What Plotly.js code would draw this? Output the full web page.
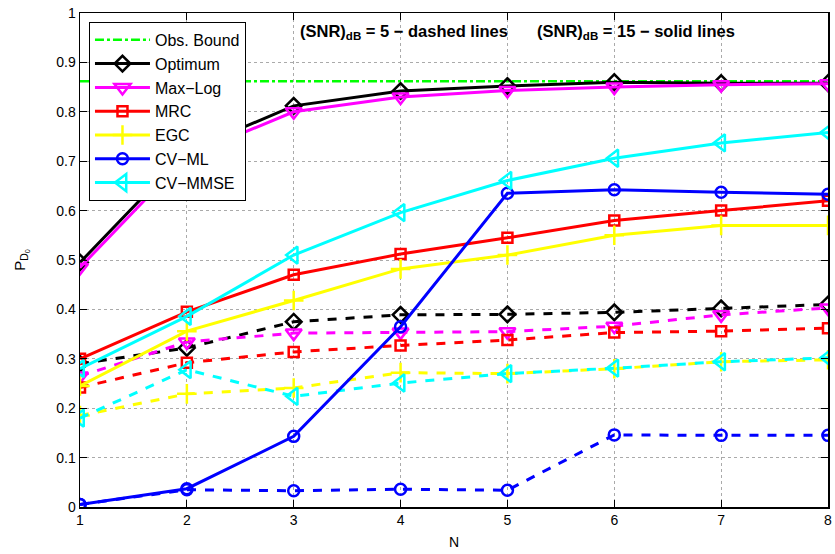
<!DOCTYPE html>
<html><head><meta charset="utf-8">
<script src="https://cdn.plot.ly/plotly-3.0.1.min.js"></script>
<style>html,body{margin:0;padding:0;background:#fff}</style>
</head><body><div id="chart" style="width:835px;height:554px"></div>
<script>
const N = [1,2,3,4,5,6,7,8];
const names = ["Optimum","Max\u2212Log","MRC","EGC","CV\u2212ML","CV\u2212MMSE"];
const obsBound = [0.862,0.862,0.862,0.862,0.862,0.862,0.862,0.862];
// SNR 15 dB (solid)
const optimum15 = [0.495,0.72,0.812,0.842,0.852,0.86,0.858,0.858];
const maxlog15  = [0.485,0.71,0.80,0.83,0.843,0.85,0.855,0.857];
const mrc15     = [0.30,0.395,0.47,0.512,0.545,0.58,0.60,0.62];
const egc15     = [0.245,0.356,0.418,0.482,0.51,0.55,0.57,0.57];
const cvml15    = [0.005,0.037,0.143,0.365,0.635,0.642,0.637,0.633];
const cvmmse15  = [0.28,0.386,0.51,0.596,0.661,0.706,0.737,0.758];
// SNR 5 dB (dashed)
const optimum5 = [0.29,0.322,0.375,0.389,0.39,0.394,0.402,0.41];
const maxlog5  = [0.265,0.334,0.352,0.354,0.355,0.366,0.389,0.403];
const mrc5     = [0.242,0.292,0.314,0.327,0.338,0.353,0.356,0.362];
const egc5     = [0.185,0.229,0.241,0.272,0.27,0.28,0.294,0.298];
const cvml5    = [0.005,0.035,0.033,0.036,0.034,0.146,0.145,0.145];
const cvmmse5  = [0.18,0.278,0.224,0.251,0.27,0.281,0.294,0.302];
const xTicks = [1,2,3,4,5,6,7,8];
const yTicks = [0,0.1,0.2,0.3,0.4,0.5,0.6,0.7,0.8,0.9,1];

const colors = ["#000000","#ff00ff","#ff0000","#ffff00","#0000ff","#00ffff"];
const symbols = ["diamond-open","triangle-down-open","square-open","cross-thin-open","circle-open","triangle-left-open"];
const sizes = [12,14,10,14,11,15];
const solid = [optimum15,maxlog15,mrc15,egc15,cvml15,cvmmse15];
const dashed = [optimum5,maxlog5,mrc5,egc5,cvml5,cvmmse5];

const traces = [{
  x: N, y: obsBound, name: "Obs. Bound", mode: "lines",
  line: {color: "#00ff00", width: 2.5, dash: "dashdot"}
}];
for (let i = 0; i < names.length; i++) {
  traces.push({
    x: N, y: dashed[i], mode: "lines+markers", showlegend: false, name: names[i],
    line: {color: colors[i], width: 3, dash: "dash"},
    marker: {symbol: symbols[i], size: sizes[i], color: colors[i], line: {color: colors[i], width: 2.5}}
  });
}
for (let i = 0; i < names.length; i++) {
  traces.push({
    x: N, y: solid[i], mode: "lines+markers", name: names[i],
    line: {color: colors[i], width: 3},
    marker: {symbol: symbols[i], size: sizes[i], color: colors[i], line: {color: colors[i], width: 2.5}}
  });
}

const axisCommon = {
  showline: true, linecolor: "#000", linewidth: 1.5, mirror: "ticks",
  ticks: "inside", ticklen: 7, tickcolor: "#000", tickwidth: 1,
  showgrid: true, gridcolor: "#aaaaaa", griddash: "dot", gridwidth: 1,
  zeroline: false, tickfont: {family: "Liberation Sans, Arial", size: 14, color: "#000"}
};

const layout = {
  width: 835, height: 554,
  margin: {l: 80, r: 7, t: 13, b: 47},
  paper_bgcolor: "#fff", plot_bgcolor: "#fff",
  font: {family: "Liberation Sans, Arial", size: 14, color: "#000"},
  xaxis: Object.assign({}, axisCommon, {
    range: [1, 8], tickvals: xTicks, ticktext: xTicks.map(String),
    title: {text: "N", standoff: 10, font: {size: 14}}
  }),
  yaxis: Object.assign({}, axisCommon, {
    range: [0, 1], tickvals: yTicks, ticktext: yTicks.map(String),
    title: {text: "P<sub>D<sub>0</sub></sub>", standoff: 27, font: {size: 15}}
  }),
  legend: {
    x: 0.012, y: 0.982, xanchor: "left", yanchor: "top",
    bgcolor: "#fff", bordercolor: "#000", borderwidth: 1,
    font: {family: "Liberation Sans, Arial", size: 16, color: "#000"},
    itemwidth: 55, tracegroupgap: 0
  },
  annotations: [
    {x: 4.03, y: 0.962, xref: "x", yref: "y", showarrow: false,
     text: "<b>(SNR)<sub>dB</sub> = 5 \u2212 dashed lines</b>", font: {size: 16.5, color: "#000"}},
    {x: 6.2, y: 0.962, xref: "x", yref: "y", showarrow: false,
     text: "<b>(SNR)<sub>dB</sub> = 15 \u2212 solid lines</b>", font: {size: 16.5, color: "#000"}}
  ]
};

Plotly.newPlot("chart", traces, layout, {displayModeBar: false, staticPlot: true});
</script></body></html>
